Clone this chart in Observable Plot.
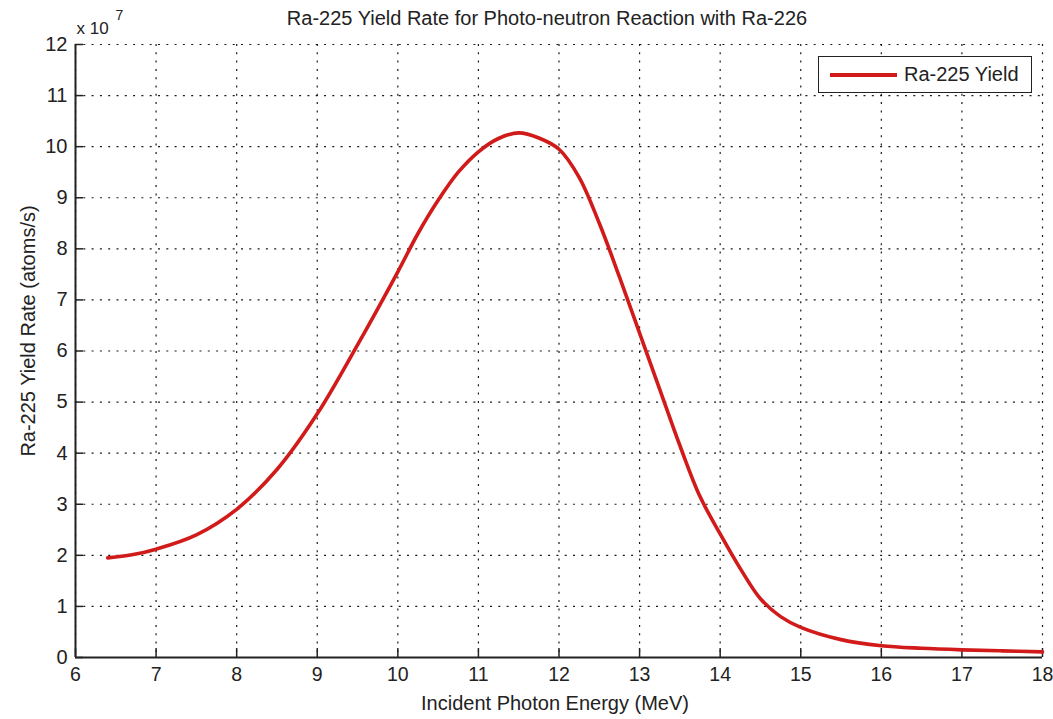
<!DOCTYPE html>
<html>
<head>
<meta charset="utf-8">
<script src="https://cdn.jsdelivr.net/npm/d3@7"></script>
<script src="https://cdn.jsdelivr.net/npm/@observablehq/plot@0.6"></script>
<style>
  html, body { margin: 0; padding: 0; background: #fff; }
  #wrap { position: relative; width: 1053px; height: 719px; font-family: "Liberation Sans", Arial, sans-serif; }
  #legend {
    position: absolute; left: 818px; top: 56px; width: 212px; height: 35px;
    border: 1.5px solid #222; background: #fff; box-sizing: content-box;
  }
  #legend .swatch { position: absolute; left: 11px; top: 16px; width: 67px; height: 3.5px; background: #d11a1a; }
  #legend .lbl { position: absolute; left: 85px; top: 6px; font-size: 20px; color: #222; }
</style>
</head>
<body>
<div id="wrap">
  <div id="chart"></div>
  <div id="legend"><div class="swatch"></div><div class="lbl">Ra-225 Yield</div></div>
</div>
<script>
// Incident photon energy (MeV)
const energy = [6.4, 6.7, 7.0, 7.5, 8.0, 8.5, 9.0, 9.5, 10.0, 10.25, 10.5, 10.75, 11.0, 11.25, 11.5,
  11.75, 12.0, 12.25, 12.5, 12.75, 13.0, 13.25, 13.5, 13.75, 14.0, 14.25, 14.5, 14.75, 15.0,
  15.5, 16.0, 16.5, 17.0, 17.5, 18.0];
// Ra-225 yield rate, in units of 10^7 atoms/s
const yieldRate = [1.95, 2.01, 2.12, 2.4, 2.9, 3.68, 4.77, 6.12, 7.55, 8.3, 8.95, 9.5, 9.9, 10.16, 10.27,
  10.17, 9.95, 9.4, 8.5, 7.45, 6.35, 5.25, 4.15, 3.15, 2.42, 1.74, 1.15, 0.8, 0.59,
  0.35, 0.23, 0.18, 0.15, 0.13, 0.11];
const xTicks = [6, 7, 8, 9, 10, 11, 12, 13, 14, 15, 16, 17, 18];
const yTicks = [0, 1, 2, 3, 4, 5, 6, 7, 8, 9, 10, 11, 12];

const data = energy.map((e, i) => ({energy: e, rate: yieldRate[i]}));

const W = 1053, H = 719;
const mL = 75, mR = 11, mT = 44, mB = 62;
const innerW = W - mL - mR, innerH = H - mT - mB;
const FS = 20;
const ink = "#222";
const curveColor = "#d11a1a";

const chart = Plot.plot({
  width: W,
  height: H,
  marginLeft: mL,
  marginRight: mR,
  marginTop: mT,
  marginBottom: mB,
  style: {fontFamily: "Liberation Sans, Arial, sans-serif", fontSize: FS + "px", color: ink, background: "#fff"},
  x: {domain: [6, 18]},
  y: {domain: [0, 12]},
  marks: [
    // dotted grid
    Plot.ruleX(xTicks, {stroke: "#000", strokeWidth: 1.2, strokeDasharray: "2,6.3", strokeOpacity: 0.9}),
    Plot.ruleY(yTicks, {stroke: "#000", strokeWidth: 1.2, strokeDasharray: "2,6.3", strokeOpacity: 0.9}),
    // inward tick marks
    Plot.ruleX(xTicks, {stroke: ink, strokeWidth: 1.5, insetTop: innerH - 9}),
    Plot.ruleY(yTicks, {stroke: ink, strokeWidth: 1.5, insetRight: innerW - 8}),
    // axis lines
    Plot.ruleY([0], {stroke: ink, strokeWidth: 2}),
    Plot.ruleX([6], {stroke: ink, strokeWidth: 2}),
    // tick labels
    Plot.axisX({ticks: xTicks, tickSize: 0, tickPadding: 10, label: null, fontSize: 19.5}),
    Plot.axisY({ticks: yTicks, tickSize: 0, tickPadding: 8, label: null, fontSize: FS}),
    // yield curve
    Plot.line(data, {x: "energy", y: "rate", stroke: curveColor, strokeWidth: 3.6, curve: "catmull-rom"}),
    // title and axis labels
    Plot.text(["Ra-225 Yield Rate for Photo-neutron Reaction with Ra-226"],
      {frameAnchor: "top", textAnchor: "middle", lineAnchor: "middle", dx: -12, dy: -26, fontSize: FS, fill: ink}),
    Plot.text(["Incident Photon Energy (MeV)"],
      {frameAnchor: "bottom", textAnchor: "middle", lineAnchor: "middle", dx: -4, dy: 46, fontSize: FS, fill: ink}),
    Plot.text(["Ra-225 Yield Rate (atoms/s)"],
      {frameAnchor: "left", textAnchor: "middle", lineAnchor: "middle", rotate: -90, dx: -47, dy: -20, fontSize: FS, fill: ink}),
    // exponent marker
    Plot.text(["x 10"], {frameAnchor: "top-left", textAnchor: "start", lineAnchor: "middle", dx: 1, dy: -16, fontSize: 17, fill: ink}),
    Plot.text(["7"], {frameAnchor: "top-left", textAnchor: "start", lineAnchor: "middle", dx: 40, dy: -29, fontSize: 14, fill: ink})
  ]
});

document.getElementById("chart").appendChild(chart);
</script>
</body>
</html>
